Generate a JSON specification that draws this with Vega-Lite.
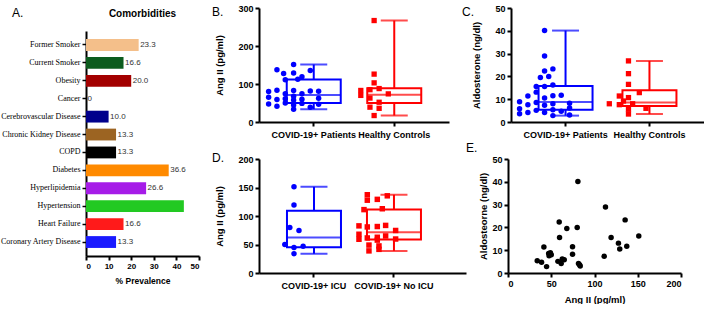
{
  "$schema": "https://vega.github.io/schema/vega-lite/v6.json",
  "padding": {"left": 0, "top": 4, "right": 0, "bottom": 0},
  "background": "white",
  "datasets": {
    "comorb": [
      {"condition": "Former Smoker", "pct": 23.3, "label": "23.3"},
      {"condition": "Current Smoker", "pct": 16.6, "label": "16.6"},
      {"condition": "Obesity", "pct": 20.0, "label": "20.0"},
      {"condition": "Cancer", "pct": 0, "label": "0"},
      {"condition": "Cerebrovascular Disease", "pct": 10.0, "label": "10.0"},
      {"condition": "Chronic Kidney Disease", "pct": 13.3, "label": "13.3"},
      {"condition": "COPD", "pct": 13.3, "label": "13.3"},
      {"condition": "Diabetes", "pct": 36.6, "label": "36.6"},
      {"condition": "Hyperlipidemia", "pct": 26.6, "label": "26.6"},
      {"condition": "Hypertension", "pct": 43.3, "label": ""},
      {"condition": "Heart Failure", "pct": 16.6, "label": "16.6"},
      {"condition": "Coronary Artery Disease", "pct": 13.3, "label": "13.3"}
    ],
    "patients": [
      {"cohort": "COVID-19+ Patients", "icu": "COVID-19+ ICU", "ang": 33.8, "aldo": 5.4, "jB": 0, "jC": 1, "jD": 0},
      {"cohort": "COVID-19+ Patients", "icu": "COVID-19+ No ICU", "ang": 38.8, "aldo": 4.7, "jB": 2, "jC": 2, "jD": -0.6},
      {"cohort": "COVID-19+ Patients", "icu": "COVID-19+ No ICU", "ang": 41.5, "aldo": 11.4, "jB": -2, "jC": -2, "jD": 0.6},
      {"cohort": "COVID-19+ Patients", "icu": "COVID-19+ ICU", "ang": 44.6, "aldo": 2.8, "jB": 0, "jC": 1, "jD": 0},
      {"cohort": "COVID-19+ Patients", "icu": "COVID-19+ ICU", "ang": 47, "aldo": 8.6, "jB": 3, "jC": -1, "jD": 1.1},
      {"cohort": "COVID-19+ Patients", "icu": "COVID-19+ No ICU", "ang": 49, "aldo": 8.9, "jB": 1, "jC": -3, "jD": -0.6},
      {"cohort": "COVID-19+ Patients", "icu": "COVID-19+ No ICU", "ang": 47.5, "aldo": 7.6, "jB": -3, "jC": -2, "jD": 0.6},
      {"cohort": "COVID-19+ Patients", "icu": "COVID-19+ ICU", "ang": 50, "aldo": 8.0, "jB": -1, "jC": 1, "jD": -1.1},
      {"cohort": "COVID-19+ Patients", "icu": "COVID-19+ No ICU", "ang": 57.7, "aldo": 5.1, "jB": 0, "jC": -1, "jD": 0.4},
      {"cohort": "COVID-19+ Patients", "icu": "COVID-19+ No ICU", "ang": 59.2, "aldo": 22.4, "jB": -2, "jC": 0, "jD": -1.8},
      {"cohort": "COVID-19+ Patients", "icu": "COVID-19+ No ICU", "ang": 59.6, "aldo": 15.6, "jB": 1, "jC": -1, "jD": 2.6},
      {"cohort": "COVID-19+ Patients", "icu": "COVID-19+ No ICU", "ang": 61.5, "aldo": 4.2, "jB": -1, "jC": -2, "jD": -0.8},
      {"cohort": "COVID-19+ Patients", "icu": "COVID-19+ No ICU", "ang": 62.7, "aldo": 6.1, "jB": 3, "jC": 3, "jD": 0.4},
      {"cohort": "COVID-19+ Patients", "icu": "COVID-19+ No ICU", "ang": 65, "aldo": 5.8, "jB": -3, "jC": -3, "jD": 1.4},
      {"cohort": "COVID-19+ Patients", "icu": "COVID-19+ No ICU", "ang": 68, "aldo": 19.5, "jB": 0, "jC": -0.5, "jD": -1.8},
      {"cohort": "COVID-19+ Patients", "icu": "COVID-19+ ICU", "ang": 74.6, "aldo": 11.5, "jB": -1, "jC": 1, "jD": 0.6},
      {"cohort": "COVID-19+ Patients", "icu": "COVID-19+ No ICU", "ang": 74.6, "aldo": 8.2, "jB": 1, "jC": 3, "jD": 2.6},
      {"cohort": "COVID-19+ Patients", "icu": "COVID-19+ No ICU", "ang": 80.8, "aldo": 40.1, "jB": 3, "jC": 0, "jD": -0.8},
      {"cohort": "COVID-19+ Patients", "icu": "COVID-19+ ICU", "ang": 80, "aldo": 20, "jB": -3, "jC": 0.5, "jD": -0.5},
      {"cohort": "COVID-19+ Patients", "icu": "COVID-19+ No ICU", "ang": 81.5, "aldo": 4.2, "jB": 2, "jC": 0, "jD": 0.4},
      {"cohort": "COVID-19+ Patients", "icu": "COVID-19+ No ICU", "ang": 82.7, "aldo": 3.6, "jB": 0, "jC": -3, "jD": -1.8},
      {"cohort": "COVID-19+ Patients", "icu": "COVID-19+ No ICU", "ang": 83.5, "aldo": 3.1, "jB": -2, "jC": 3, "jD": 1.4},
      {"cohort": "COVID-19+ Patients", "icu": "COVID-19+ No ICU", "ang": 111.2, "aldo": 7.3, "jB": -1, "jC": 0, "jD": -1.2},
      {"cohort": "COVID-19+ Patients", "icu": "COVID-19+ No ICU", "ang": 112.7, "aldo": 28.9, "jB": 0.5, "jC": 0, "jD": 1},
      {"cohort": "COVID-19+ Patients", "icu": "COVID-19+ ICU", "ang": 119.2, "aldo": 15.6, "jB": 1, "jC": 0, "jD": 0},
      {"cohort": "COVID-19+ Patients", "icu": "COVID-19+ No ICU", "ang": 127.7, "aldo": 13.1, "jB": -1.2, "jC": -1, "jD": -0.8},
      {"cohort": "COVID-19+ Patients", "icu": "COVID-19+ No ICU", "ang": 129.2, "aldo": 10.5, "jB": 0, "jC": 0, "jD": 0.4},
      {"cohort": "COVID-19+ Patients", "icu": "COVID-19+ No ICU", "ang": 135.4, "aldo": 23.3, "jB": 2, "jC": 1, "jD": 1.6},
      {"cohort": "COVID-19+ Patients", "icu": "COVID-19+ No ICU", "ang": 137.3, "aldo": 11.7, "jB": -2, "jC": 2, "jD": -0.8},
      {"cohort": "COVID-19+ Patients", "icu": "COVID-19+ ICU", "ang": 151.2, "aldo": 16.2, "jB": 0, "jC": 1, "jD": 0}
    ],
    "ctrlB": [
      {"cohort": "Healthy Controls", "v": 267, "j": 0},
      {"cohort": "Healthy Controls", "v": 126, "j": 0},
      {"cohort": "Healthy Controls", "v": 103, "j": 0},
      {"cohort": "Healthy Controls", "v": 88, "j": 0.6},
      {"cohort": "Healthy Controls", "v": 85, "j": -0.5},
      {"cohort": "Healthy Controls", "v": 83, "j": -1.6},
      {"cohort": "Healthy Controls", "v": 74, "j": 1.7},
      {"cohort": "Healthy Controls", "v": 70, "j": -1.6},
      {"cohort": "Healthy Controls", "v": 63, "j": -0.5},
      {"cohort": "Healthy Controls", "v": 52, "j": 0.6},
      {"cohort": "Healthy Controls", "v": 39, "j": -0.5},
      {"cohort": "Healthy Controls", "v": 36, "j": 0.6},
      {"cohort": "Healthy Controls", "v": 17, "j": 0}
    ],
    "ctrlC": [
      {"cohort": "Healthy Controls", "v": 26.8, "j": 0},
      {"cohort": "Healthy Controls", "v": 21.2, "j": 0},
      {"cohort": "Healthy Controls", "v": 16.5, "j": 0},
      {"cohort": "Healthy Controls", "v": 12.9, "j": 1.3},
      {"cohort": "Healthy Controls", "v": 11.4, "j": -1.1},
      {"cohort": "Healthy Controls", "v": 10.7, "j": 0},
      {"cohort": "Healthy Controls", "v": 9.2, "j": -0.6},
      {"cohort": "Healthy Controls", "v": 8, "j": -2.3},
      {"cohort": "Healthy Controls", "v": 8, "j": 0.5},
      {"cohort": "Healthy Controls", "v": 7.6, "j": -1.1},
      {"cohort": "Healthy Controls", "v": 6, "j": 2.1},
      {"cohort": "Healthy Controls", "v": 5.6, "j": 0},
      {"cohort": "Healthy Controls", "v": 3.5, "j": 0}
    ],
    "statsB": [
      {"cohort": "COVID-19+ Patients", "min": 33.8, "q1": 49.75, "med": 71.3, "q3": 111.6, "max": 151.2},
      {"cohort": "Healthy Controls", "min": 17, "q1": 50, "med": 72, "q3": 89, "max": 267}
    ],
    "statsC": [
      {"cohort": "COVID-19+ Patients", "min": 2.8, "q1": 5.33, "med": 8.75, "q3": 15.75, "max": 40.1},
      {"cohort": "Healthy Controls", "min": 3.5, "q1": 7.0, "med": 8.5, "q3": 13.9, "max": 26.8}
    ],
    "statsD": [
      {"icu": "COVID-19+ ICU", "min": 33.8, "q1": 45.2, "med": 62.3, "q3": 109.4, "max": 151.2},
      {"icu": "COVID-19+ No ICU", "min": 38.8, "q1": 58.8, "med": 71.3, "q3": 111.6, "max": 137.3}
    ]
  },
  "resolve": {"scale": {"color": "independent", "stroke": "independent", "shape": "independent"}},
  "align": "none",
  "hconcat": [
    {
      "title": {"text": "A.", "dx": 12, "offset": -12, "dy": 0},
      "resolve": {"scale": {"color": "independent", "stroke": "independent", "shape": "independent"}},
      "vconcat": [
        {
          "title": {"text": "Comorbidities", "anchor": "middle", "frame": "group", "fontWeight": "bold", "fontSize": 10, "offset": 0, "dy": 11},
          "width": 113,
          "height": 248,
          "data": {"name": "comorb"},
          "encoding": {
            "y": {"field": "condition", "type": "nominal", "sort": null,
                  "scale": {"paddingInner": 0.34, "paddingOuter": 0.45, "range": [23, 248]},
                  "axis": {"title": null, "labelFont": "Liberation Serif", "labelFontWeight": "normal", "labelFontSize": 8, "tickWidth": 1.5, "labelPadding": 2}},
            "x": {"field": "pct", "type": "quantitative", "scale": {"domain": [0, 50], "nice": false},
                  "axis": {"values": [0, 10, 20, 30, 40, 50], "labelOverlap": false, "title": "% Prevalence", "labelFontSize": 8, "titlePadding": 6, "titleFontSize": 8.5}}
          },
          "layer": [
            {
              "mark": {"type": "bar"},
              "encoding": {
                "color": {"field": "condition", "type": "nominal", "legend": null,
                          "scale": {"domain": ["Former Smoker", "Current Smoker", "Obesity", "Cancer", "Cerebrovascular Disease", "Chronic Kidney Disease", "COPD", "Diabetes", "Hyperlipidemia", "Hypertension", "Heart Failure", "Coronary Artery Disease"],
                                    "range": ["#f4bf8a", "#0c5c1e", "#a30000", "#888888", "#00008c", "#9c6422", "#000000", "#ff8a00", "#a61ce8", "#22c922", "#ff1a1a", "#1a1aff"]}}
              }
            },
            {
              "mark": {"type": "text", "align": "left", "baseline": "middle", "dx": 1.5, "fontSize": 8, "color": "#333333", "font": "Liberation Sans"},
              "encoding": {
                "text": {"field": "label"}
              }
            }
          ]
        }
      ]
    },
    {
      "resolve": {"scale": {"color": "independent", "stroke": "independent", "shape": "independent"}},
      "vconcat": [
        {
          "resolve": {"scale": {"color": "independent", "stroke": "independent", "shape": "independent"}},
          "hconcat": [
            {
              "title": {"text": "B.", "dx": -3, "offset": -14, "dy": 1},
              "width": 190,
              "height": 114,
              "encoding": {
                "x": {"field": "cohort", "type": "nominal", "scale": {"type": "band", "domain": ["COVID-19+ Patients", "Healthy Controls"], "paddingInner": 0.5, "paddingOuter": 0.43, "align": 0.5}, "axis": {"title": null, "labelAngle": 0, "labelPadding": 4}}
              },
              "layer": [
                {"data": {"name": "statsB"}, "mark": {"type": "rule", "strokeWidth": 2},
                 "encoding": {
                   "y": {"field": "min", "type": "quantitative", "scale": {"domain": [0, 300], "nice": false}, "axis": {"values": [0, 100, 200, 300], "labelOverlap": false, "title": "Ang II (pg/ml)", "titlePadding": 13}},
                   "y2": {"field": "max"},
                   "color": {"field": "cohort", "type": "nominal", "legend": null, "scale": {"domain": ["COVID-19+ Patients", "Healthy Controls"], "range": ["#0000ff", "#ff0000"]}}
                 }},
                {"data": {"name": "statsB"}, "mark": {"type": "bar", "width": 54, "fill": "white", "strokeWidth": 2},
                 "encoding": {
                   "y": {"field": "q1", "type": "quantitative", "axis": {"values": [0, 100, 200, 300], "labelOverlap": false, "title": "Ang II (pg/ml)", "titlePadding": 13}},
                   "y2": {"field": "q3"},
                   "stroke": {"field": "cohort", "type": "nominal", "legend": null, "scale": {"domain": ["COVID-19+ Patients", "Healthy Controls"], "range": ["#0000ff", "#ff0000"]}}
                 }},
                {"data": {"name": "statsB"}, "mark": {"type": "tick", "size": 54, "thickness": 2},
                 "encoding": {"y": {"field": "med", "type": "quantitative", "axis": {"values": [0, 100, 200, 300], "labelOverlap": false, "title": "Ang II (pg/ml)", "titlePadding": 13}}, "color": {"field": "cohort", "type": "nominal", "legend": null}}},
                {"data": {"name": "statsB"}, "mark": {"type": "tick", "size": 27, "thickness": 2},
                 "encoding": {"y": {"field": "min", "type": "quantitative", "axis": {"values": [0, 100, 200, 300], "labelOverlap": false, "title": "Ang II (pg/ml)", "titlePadding": 13}}, "color": {"field": "cohort", "type": "nominal", "legend": null}}},
                {"data": {"name": "statsB"}, "mark": {"type": "tick", "size": 27, "thickness": 2},
                 "encoding": {"y": {"field": "max", "type": "quantitative", "axis": {"values": [0, 100, 200, 300], "labelOverlap": false, "title": "Ang II (pg/ml)", "titlePadding": 13}}, "color": {"field": "cohort", "type": "nominal", "legend": null}}},
                {"data": {"name": "patients"}, "mark": {"type": "point", "filled": true, "size": 30, "opacity": 1, "shape": "circle"},
                 "encoding": {"xOffset": {"field": "jB", "type": "quantitative", "scale": {"domain": [-3, 3], "range": [-25, 25]}}, "y": {"field": "ang", "type": "quantitative", "axis": {"values": [0, 100, 200, 300], "labelOverlap": false, "title": "Ang II (pg/ml)", "titlePadding": 13}}, "color": {"field": "cohort", "type": "nominal", "legend": null}}},
                {"data": {"name": "ctrlB"}, "mark": {"type": "point", "filled": true, "size": 28, "opacity": 1, "shape": "square"},
                 "encoding": {"xOffset": {"field": "j", "type": "quantitative"}, "y": {"field": "v", "type": "quantitative", "axis": {"values": [0, 100, 200, 300], "labelOverlap": false, "title": "Ang II (pg/ml)", "titlePadding": 13}}, "color": {"field": "cohort", "type": "nominal", "legend": null}}}
              ]
            },
            {
              "title": {"text": "C.", "dx": -10, "offset": -14, "dy": 1},
              "width": 193,
              "height": 114,
              "encoding": {
                "x": {"field": "cohort", "type": "nominal", "scale": {"type": "band", "domain": ["COVID-19+ Patients", "Healthy Controls"], "paddingInner": 0.5, "paddingOuter": 0.4, "align": 0.5}, "axis": {"title": null, "labelAngle": 0, "labelPadding": 4}}
              },
              "layer": [
                {"data": {"name": "statsC"}, "mark": {"type": "rule", "strokeWidth": 2},
                 "encoding": {
                   "y": {"field": "min", "type": "quantitative", "scale": {"domain": [0, 50], "nice": false}, "axis": {"values": [0, 10, 20, 30, 40, 50], "labelOverlap": false, "title": "Aldosterone (ng/dl)", "titlePadding": 13}},
                   "y2": {"field": "max"},
                   "color": {"field": "cohort", "type": "nominal", "legend": null, "scale": {"domain": ["COVID-19+ Patients", "Healthy Controls"], "range": ["#0000ff", "#ff0000"]}}
                 }},
                {"data": {"name": "statsC"}, "mark": {"type": "bar", "width": 54, "fill": "white", "strokeWidth": 2},
                 "encoding": {
                   "y": {"field": "q1", "type": "quantitative", "axis": {"values": [0, 10, 20, 30, 40, 50], "labelOverlap": false, "title": "Aldosterone (ng/dl)", "titlePadding": 13}},
                   "y2": {"field": "q3"},
                   "stroke": {"field": "cohort", "type": "nominal", "legend": null, "scale": {"domain": ["COVID-19+ Patients", "Healthy Controls"], "range": ["#0000ff", "#ff0000"]}}
                 }},
                {"data": {"name": "statsC"}, "mark": {"type": "tick", "size": 54, "thickness": 2},
                 "encoding": {"y": {"field": "med", "type": "quantitative", "axis": {"values": [0, 10, 20, 30, 40, 50], "labelOverlap": false, "title": "Aldosterone (ng/dl)", "titlePadding": 13}}, "color": {"field": "cohort", "type": "nominal", "legend": null}}},
                {"data": {"name": "statsC"}, "mark": {"type": "tick", "size": 27, "thickness": 2},
                 "encoding": {"y": {"field": "min", "type": "quantitative", "axis": {"values": [0, 10, 20, 30, 40, 50], "labelOverlap": false, "title": "Aldosterone (ng/dl)", "titlePadding": 13}}, "color": {"field": "cohort", "type": "nominal", "legend": null}}},
                {"data": {"name": "statsC"}, "mark": {"type": "tick", "size": 27, "thickness": 2},
                 "encoding": {"y": {"field": "max", "type": "quantitative", "axis": {"values": [0, 10, 20, 30, 40, 50], "labelOverlap": false, "title": "Aldosterone (ng/dl)", "titlePadding": 13}}, "color": {"field": "cohort", "type": "nominal", "legend": null}}},
                {"data": {"name": "patients"}, "mark": {"type": "point", "filled": true, "size": 30, "opacity": 1, "shape": "circle"},
                 "encoding": {"xOffset": {"field": "jC", "type": "quantitative", "scale": {"domain": [-3, 3], "range": [-25, 25]}}, "y": {"field": "aldo", "type": "quantitative", "axis": {"values": [0, 10, 20, 30, 40, 50], "labelOverlap": false, "title": "Aldosterone (ng/dl)", "titlePadding": 13}}, "color": {"field": "cohort", "type": "nominal", "legend": null}}},
                {"data": {"name": "ctrlC"}, "mark": {"type": "point", "filled": true, "size": 28, "opacity": 1, "shape": "square"},
                 "encoding": {"xOffset": {"field": "j", "type": "quantitative"}, "y": {"field": "v", "type": "quantitative", "axis": {"values": [0, 10, 20, 30, 40, 50], "labelOverlap": false, "title": "Aldosterone (ng/dl)", "titlePadding": 13}}, "color": {"field": "cohort", "type": "nominal", "legend": null}}}
              ]
            }
          ],
          "spacing": 12
        },
        {
          "resolve": {"scale": {"color": "independent", "stroke": "independent", "shape": "independent"}},
          "hconcat": [
            {
              "title": {"text": "D.", "dx": -3, "offset": -14, "dy": -4.5},
              "width": 207,
              "height": 114,
              "encoding": {
                "x": {"field": "icu", "type": "nominal", "scale": {"type": "band", "domain": ["COVID-19+ ICU", "COVID-19+ No ICU"], "paddingInner": 0.5, "paddingOuter": 0.544, "align": 0.402}, "axis": {"title": null, "labelAngle": 0, "labelPadding": 4}}
              },
              "layer": [
                {"data": {"name": "statsD"}, "mark": {"type": "rule", "strokeWidth": 2},
                 "encoding": {
                   "y": {"field": "min", "type": "quantitative", "scale": {"domain": [0, 200], "nice": false}, "axis": {"values": [0, 50, 100, 150, 200], "labelOverlap": false, "title": "Ang II (pg/ml)", "titlePadding": 13}},
                   "y2": {"field": "max"},
                   "color": {"field": "icu", "type": "nominal", "legend": null, "scale": {"domain": ["COVID-19+ ICU", "COVID-19+ No ICU"], "range": ["#0000ff", "#ff0000"]}}
                 }},
                {"data": {"name": "statsD"}, "mark": {"type": "bar", "width": 54, "fill": "white", "strokeWidth": 2},
                 "encoding": {
                   "y": {"field": "q1", "type": "quantitative", "axis": {"values": [0, 50, 100, 150, 200], "labelOverlap": false, "title": "Ang II (pg/ml)", "titlePadding": 13}},
                   "y2": {"field": "q3"},
                   "stroke": {"field": "icu", "type": "nominal", "legend": null, "scale": {"domain": ["COVID-19+ ICU", "COVID-19+ No ICU"], "range": ["#0000ff", "#ff0000"]}}
                 }},
                {"data": {"name": "statsD"}, "mark": {"type": "tick", "size": 54, "thickness": 2},
                 "encoding": {"y": {"field": "med", "type": "quantitative", "axis": {"values": [0, 50, 100, 150, 200], "labelOverlap": false, "title": "Ang II (pg/ml)", "titlePadding": 13}}, "color": {"field": "icu", "type": "nominal", "legend": null}}},
                {"data": {"name": "statsD"}, "mark": {"type": "tick", "size": 27, "thickness": 2},
                 "encoding": {"y": {"field": "min", "type": "quantitative", "axis": {"values": [0, 50, 100, 150, 200], "labelOverlap": false, "title": "Ang II (pg/ml)", "titlePadding": 13}}, "color": {"field": "icu", "type": "nominal", "legend": null}}},
                {"data": {"name": "statsD"}, "mark": {"type": "tick", "size": 27, "thickness": 2},
                 "encoding": {"y": {"field": "max", "type": "quantitative", "axis": {"values": [0, 50, 100, 150, 200], "labelOverlap": false, "title": "Ang II (pg/ml)", "titlePadding": 13}}, "color": {"field": "icu", "type": "nominal", "legend": null}}},
                {"data": {"name": "patients"}, "mark": {"type": "point", "filled": true, "size": 30, "opacity": 1},
                 "encoding": {"xOffset": {"field": "jD", "type": "quantitative", "scale": {"domain": [-3, 3], "range": [-25, 25]}}, "y": {"field": "ang", "type": "quantitative", "axis": {"values": [0, 50, 100, 150, 200], "labelOverlap": false, "title": "Ang II (pg/ml)", "titlePadding": 13}}, "color": {"field": "icu", "type": "nominal", "legend": null},
                   "shape": {"field": "icu", "type": "nominal", "legend": null, "scale": {"domain": ["COVID-19+ ICU", "COVID-19+ No ICU"], "range": ["circle", "square"]}}}}
              ]
            },
            {
              "title": {"text": "E.", "dx": -13, "offset": -14, "dy": -14.5},
              "width": 173,
              "height": 114,
              "data": {"name": "patients"},
              "mark": {"type": "point", "filled": true, "size": 30, "opacity": 1, "color": "black", "shape": "circle"},
              "encoding": {
                "x": {"field": "ang", "type": "quantitative", "scale": {"domain": [0, 200], "nice": false}, "axis": {"values": [0, 50, 100, 150, 200], "labelOverlap": false, "title": "Ang II (pg/ml)", "titlePadding": 6}},
                "y": {"field": "aldo", "type": "quantitative", "scale": {"domain": [0, 50], "nice": false}, "axis": {"values": [0, 10, 20, 30, 40, 50], "labelOverlap": false, "title": "Aldosteorne (ng/dl)", "titlePadding": 3}}
              }
            }
          ],
          "spacing": -1
        }
      ],
      "spacing": 2
    }
  ],
  "spacing": 11,
  "config": {
    "view": {"stroke": null},
    "font": "Liberation Sans",
    "axis": {"domainColor": "black", "domainWidth": 2, "tickColor": "black", "tickWidth": 2, "tickSize": 4, "labelColor": "black", "labelFont": "Liberation Sans", "labelFontWeight": "bold", "labelFontSize": 9, "titleFont": "Liberation Sans", "titleFontWeight": "bold", "titleFontSize": 9.5, "titleColor": "black", "grid": false, "labelPadding": 2, "labelOverlap": false},
    "title": {"font": "Liberation Sans", "fontWeight": "normal", "fontSize": 12, "color": "black", "anchor": "start", "frame": "bounds"}
  }
}
